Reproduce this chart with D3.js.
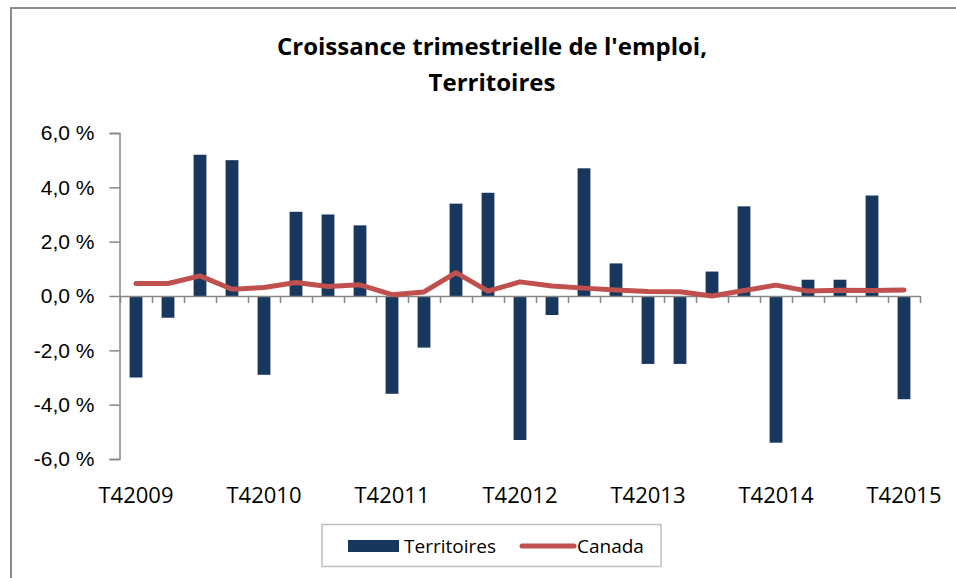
<!DOCTYPE html>
<html>
<head>
<meta charset="utf-8">
<script src="https://cdn.jsdelivr.net/npm/d3@7"></script>
<style>
	body { margin: 0; background: #fff; }
	svg { display: block; font-family: "Open Sans", "Liberation Sans", sans-serif; }
	.axis path, .axis line { stroke: #868686; stroke-width: 1.5; }
	.axis text { fill: #000; }
</style>
</head>
<body>
<script>
// quarters, T4 2009 -> T4 2015
var quarters = [
	'T42009','T12010','T22010','T32010',
	'T42010','T12011','T22011','T32011',
	'T42011','T12012','T22012','T32012',
	'T42012','T12013','T22013','T32013',
	'T42013','T12014','T22014','T32014',
	'T42014','T12015','T22015','T32015',
	'T42015'
];

var territoires = [
	-3.0, -0.8, 5.2, 5.0,
	-2.9, 3.1, 3.0, 2.6,
	-3.6, -1.9, 3.4, 3.8,
	-5.3, -0.7, 4.7, 1.2,
	-2.5, -2.5, 0.9, 3.3,
	-5.4, 0.6, 0.6, 3.7,
	-3.8
];

var canada = [
	0.46, 0.46, 0.74, 0.25,
	0.31, 0.50, 0.35, 0.41,
	0.05, 0.15, 0.86, 0.18,
	0.52, 0.37, 0.29, 0.22,
	0.17, 0.16, 0.0, 0.20,
	0.40, 0.18, 0.21, 0.20,
	0.22
];

var yTicks = [-6, -4, -2, 0, 2, 4, 6];
var xLabels = ['T42009','T42010','T42011','T42012','T42013','T42014','T42015'];

var barColour = '#17375E',
	lineColour = '#C0504D';

var width = 956, height = 578;

var svg = d3.select('body').append('svg')
	.attr('width', width)
	.attr('height', height);

// chart frame (runs off the right and bottom edges)
svg.append('rect')
	.attr('x', 11)
	.attr('y', 8)
	.attr('width', 1000)
	.attr('height', 1000)
	.attr('fill', 'none')
	.attr('stroke', '#8c8c8c')
	.attr('stroke-width', 2);

// title
var title = svg.append('text')
	.attr('text-anchor', 'middle')
	.attr('font-weight', 'bold')
	.attr('font-size', 24);
title.append('tspan').attr('x', 492).attr('y', 55).text("Croissance trimestrielle de l'emploi,");
title.append('tspan').attr('x', 492).attr('y', 91).text('Territoires');

var plot = { left: 120, right: 920, top: 133, bottom: 459 };

var x = d3.scaleBand()
	.domain(quarters)
	.range([plot.left, plot.right])
	.paddingInner(0.6)
	.paddingOuter(0.3);

var xEdge = d3.scaleLinear()
	.domain([0, quarters.length])
	.range([plot.left, plot.right]);

var y = d3.scaleLinear()
	.domain([-6, 6])
	.range([plot.bottom, plot.top]);

var fr = d3.formatLocale({ decimal: ',', thousands: ' ', grouping: [3], currency: ['', ' $'], minus: '-' });
var pct = fr.format('.1f');

// y axis
var yAxis = svg.append('g')
	.attr('class', 'axis')
	.attr('transform', 'translate(' + (plot.left - 0.5) + ',0)')
	.call(d3.axisLeft(y)
		.tickValues(yTicks)
		.tickSize(10)
		.tickSizeOuter(10)
		.tickPadding(15)
		.tickFormat(function(d) { return pct(d) + ' %'; }));
yAxis.selectAll('text').attr('font-size', 21);

// bars
svg.append('g').selectAll('rect')
	.data(territoires)
	.enter().append('rect')
	.attr('x', function(d, i) { return x(quarters[i]); })
	.attr('y', function(d) { return y(Math.max(0, d)); })
	.attr('width', x.bandwidth())
	.attr('height', function(d) { return Math.abs(y(d) - y(0)); })
	.attr('fill', barColour);

// x axis line with ticks between categories
svg.append('g')
	.attr('class', 'axis')
	.attr('transform', 'translate(0,' + y(0) + ')')
	.call(d3.axisBottom(xEdge)
		.tickValues(d3.range(0, quarters.length + 1))
		.tickSize(7)
		.tickSizeOuter(0)
		.tickFormat(''));

// category labels at the bottom
svg.append('g').selectAll('text')
	.data(xLabels)
	.enter().append('text')
	.attr('x', function(d) { return x(d) + x.bandwidth() / 2; })
	.attr('y', 503)
	.attr('text-anchor', 'middle')
	.attr('font-size', 22)
	.text(function(d) { return d; });

// Canada line
var line = d3.line()
	.x(function(d, i) { return x(quarters[i]) + x.bandwidth() / 2; })
	.y(function(d) { return y(d); });

svg.append('path')
	.datum(canada)
	.attr('d', line)
	.attr('fill', 'none')
	.attr('stroke', lineColour)
	.attr('stroke-width', 5)
	.attr('stroke-linejoin', 'round')
	.attr('stroke-linecap', 'round');

// legend
var legend = svg.append('g');
legend.append('rect')
	.attr('x', 322)
	.attr('y', 524.5)
	.attr('width', 339)
	.attr('height', 42)
	.attr('fill', '#fff')
	.attr('stroke', '#bfbfbf')
	.attr('stroke-width', 1.5);

legend.append('rect')
	.attr('x', 348)
	.attr('y', 540)
	.attr('width', 51)
	.attr('height', 12)
	.attr('fill', barColour);

legend.append('text')
	.attr('x', 404)
	.attr('y', 553)
	.attr('font-size', 19)
	.text('Territoires');

legend.append('line')
	.attr('x1', 522)
	.attr('x2', 574)
	.attr('y1', 546)
	.attr('y2', 546)
	.attr('stroke', lineColour)
	.attr('stroke-width', 5)
	.attr('stroke-linecap', 'round');

legend.append('text')
	.attr('x', 577)
	.attr('y', 553)
	.attr('font-size', 19)
	.text('Canada');
</script>
</body>
</html>
